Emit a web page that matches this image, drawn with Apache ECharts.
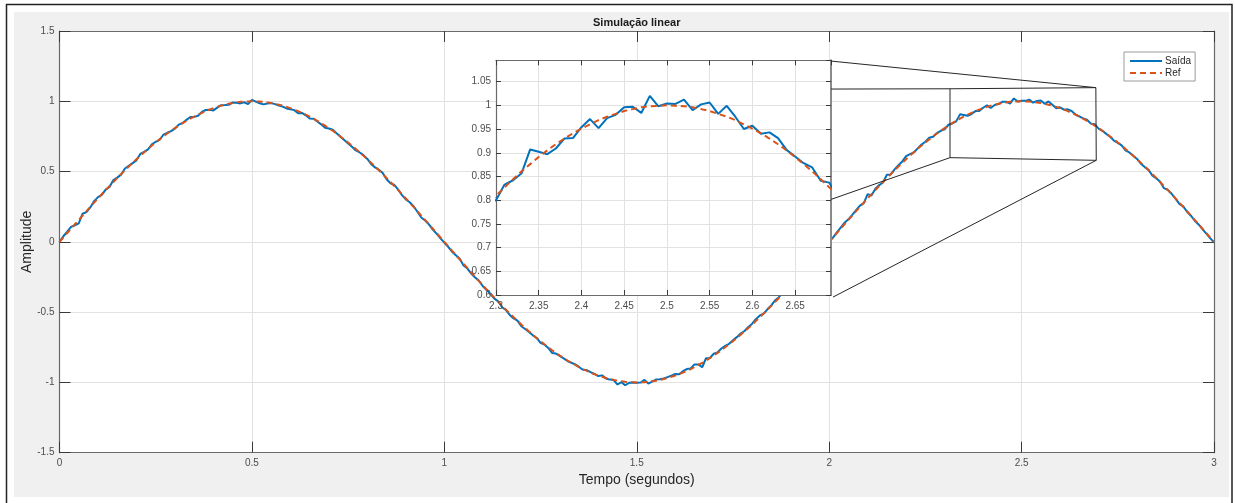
<!DOCTYPE html>
<html>
<head>
<meta charset="utf-8">
<script src="https://cdn.jsdelivr.net/npm/echarts@6/dist/echarts.min.js"></script>
<style>
html,body{margin:0;padding:0;background:#fff;}
#chart{width:1235px;height:503px;}
</style>
</head>
<body>
<div id="chart"></div>
<script>
// ---- data (sample times in seconds) ----
const time = [
0,0.01,0.02,0.03,0.04,0.05,0.06,0.07,0.08,0.09,
0.1,0.11,0.12,0.13,0.14,0.15,0.16,0.17,0.18,0.19,
0.2,0.21,0.22,0.23,0.24,0.25,0.26,0.27,0.28,0.29,
0.3,0.31,0.32,0.33,0.34,0.35,0.36,0.37,0.38,0.39,
0.4,0.41,0.42,0.43,0.44,0.45,0.46,0.47,0.48,0.49,
0.5,0.51,0.52,0.53,0.54,0.55,0.56,0.57,0.58,0.59,
0.6,0.61,0.62,0.63,0.64,0.65,0.66,0.67,0.68,0.69,
0.7,0.71,0.72,0.73,0.74,0.75,0.76,0.77,0.78,0.79,
0.8,0.81,0.82,0.83,0.84,0.85,0.86,0.87,0.88,0.89,
0.9,0.91,0.92,0.93,0.94,0.95,0.96,0.97,0.98,0.99,
1,1.01,1.02,1.03,1.04,1.05,1.06,1.07,1.08,1.09,
1.1,1.11,1.12,1.13,1.14,1.15,1.16,1.17,1.18,1.19,
1.2,1.21,1.22,1.23,1.24,1.25,1.26,1.27,1.28,1.29,
1.3,1.31,1.32,1.33,1.34,1.35,1.36,1.37,1.38,1.39,
1.4,1.41,1.42,1.43,1.44,1.45,1.46,1.47,1.48,1.49,
1.5,1.51,1.52,1.53,1.54,1.55,1.56,1.57,1.58,1.59,
1.6,1.61,1.62,1.63,1.64,1.65,1.66,1.67,1.68,1.69,
1.7,1.71,1.72,1.73,1.74,1.75,1.76,1.77,1.78,1.79,
1.8,1.81,1.82,1.83,1.84,1.85,1.86,1.87,1.88,1.89,
1.9,1.91,1.92,1.93,1.94,1.95,1.96,1.97,1.98,1.99,
2,2.01,2.02,2.03,2.04,2.05,2.06,2.07,2.08,2.09,
2.1,2.11,2.12,2.13,2.14,2.15,2.16,2.17,2.18,2.19,
2.2,2.21,2.22,2.23,2.24,2.25,2.26,2.27,2.28,2.29,
2.3,2.31,2.32,2.33,2.34,2.35,2.36,2.37,2.38,2.39,
2.4,2.41,2.42,2.43,2.44,2.45,2.46,2.47,2.48,2.49,
2.5,2.51,2.52,2.53,2.54,2.55,2.56,2.57,2.58,2.59,
2.6,2.61,2.62,2.63,2.64,2.65,2.66,2.67,2.68,2.69,
2.7,2.71,2.72,2.73,2.74,2.75,2.76,2.77,2.78,2.79,
2.8,2.81,2.82,2.83,2.84,2.85,2.86,2.87,2.88,2.89,
2.9,2.91,2.92,2.93,2.94,2.95,2.96,2.97,2.98,2.99,
3
];

// Saída (system output)
const saida = [
0,0.040,0.072,0.106,0.118,0.131,0.200,0.212,0.245,0.290,
0.318,0.334,0.372,0.390,0.440,0.457,0.478,0.522,0.541,0.560,
0.580,0.625,0.640,0.658,0.694,0.712,0.726,0.762,0.776,0.788,
0.806,0.834,0.846,0.868,0.888,0.889,0.897,0.925,0.938,0.939,
0.935,0.955,0.972,0.973,0.975,0.992,0.990,0.985,0.993,0.980,
1.010,0.998,0.986,0.978,0.984,0.987,0.980,0.970,0.962,0.949,
0.943,0.937,0.915,0.917,0.900,0.878,0.876,0.856,0.836,0.811,
0.806,0.797,0.772,0.748,0.724,0.700,0.677,0.650,0.636,0.617,
0.590,0.552,0.530,0.513,0.489,0.445,0.417,0.405,0.372,0.332,
0.302,0.282,0.253,0.214,0.173,0.152,0.124,0.087,0.058,0.025,
-0.006,-0.035,-0.070,-0.096,-0.121,-0.168,-0.190,-0.226,-0.254,-0.277,
-0.316,-0.342,-0.371,-0.404,-0.423,-0.465,-0.485,-0.520,-0.545,-0.560,
-0.600,-0.620,-0.642,-0.665,-0.684,-0.718,-0.731,-0.755,-0.790,-0.795,
-0.812,-0.829,-0.848,-0.860,-0.872,-0.890,-0.910,-0.912,-0.927,-0.940,
-0.955,-0.950,-0.972,-0.980,-0.983,-1.015,-0.998,-1.020,-1.003,-1.000,
-1.002,-1.001,-0.982,-1.008,-0.995,-0.980,-0.978,-0.972,-0.962,-0.952,
-0.940,-0.942,-0.920,-0.905,-0.900,-0.872,-0.872,-0.892,-0.828,-0.826,
-0.796,-0.786,-0.759,-0.740,-0.725,-0.700,-0.678,-0.652,-0.634,-0.606,
-0.582,-0.548,-0.524,-0.510,-0.478,-0.450,-0.415,-0.392,-0.360,-0.342,
-0.298,-0.272,-0.244,-0.211,-0.190,-0.142,-0.122,-0.085,-0.056,-0.028,
0.004,0.030,0.068,0.102,0.136,0.160,0.192,0.226,0.258,0.276,
0.340,0.329,0.378,0.404,0.422,0.478,0.480,0.516,0.545,0.572,
0.610,0.624,0.636,0.665,0.692,0.712,0.741,0.748,0.774,0.790,
0.800,0.833,0.842,0.857,0.907,0.902,0.897,0.909,0.930,0.931,
0.954,0.971,0.952,0.973,0.980,0.996,0.997,0.984,1.020,0.998,
1.004,1.003,1.012,0.990,1.002,1.006,0.982,0.999,0.976,0.950,
0.957,0.940,0.943,0.931,0.906,0.892,0.878,0.869,0.841,0.837,
0.806,0.790,0.768,0.748,0.720,0.704,0.686,0.651,0.636,0.612,
0.590,0.556,0.532,0.512,0.470,0.452,0.428,0.382,0.370,0.342,
0.308,0.270,0.252,0.214,0.186,0.150,0.124,0.090,0.058,0.026,
-0.004
];

// Ref (reference signal)
const ref = [
0,0.031,0.063,0.094,0.125,0.156,0.187,0.218,0.249,0.279,
0.309,0.339,0.368,0.397,0.426,0.454,0.482,0.509,0.536,0.562,
0.588,0.613,0.637,0.661,0.685,0.707,0.729,0.750,0.771,0.790,
0.809,0.827,0.844,0.861,0.876,0.891,0.905,0.918,0.930,0.941,
0.951,0.960,0.969,0.976,0.982,0.988,0.992,0.996,0.998,0.999,
1,0.999,0.998,0.996,0.992,0.988,0.982,0.976,0.969,0.960,
0.951,0.941,0.930,0.918,0.905,0.891,0.876,0.861,0.844,0.827,
0.809,0.790,0.771,0.750,0.729,0.707,0.685,0.661,0.637,0.613,
0.588,0.562,0.536,0.509,0.482,0.454,0.426,0.397,0.368,0.339,
0.309,0.279,0.249,0.218,0.187,0.156,0.125,0.094,0.063,0.031,
0,-0.031,-0.063,-0.094,-0.125,-0.156,-0.187,-0.218,-0.249,-0.279,
-0.309,-0.339,-0.368,-0.397,-0.426,-0.454,-0.482,-0.509,-0.536,-0.562,
-0.588,-0.613,-0.637,-0.661,-0.685,-0.707,-0.729,-0.750,-0.771,-0.790,
-0.809,-0.827,-0.844,-0.861,-0.876,-0.891,-0.905,-0.918,-0.930,-0.941,
-0.951,-0.960,-0.969,-0.976,-0.982,-0.988,-0.992,-0.996,-0.998,-0.999,
-1,-0.999,-0.998,-0.996,-0.992,-0.988,-0.982,-0.976,-0.969,-0.960,
-0.951,-0.941,-0.930,-0.918,-0.905,-0.891,-0.876,-0.861,-0.844,-0.827,
-0.809,-0.790,-0.771,-0.750,-0.729,-0.707,-0.685,-0.661,-0.637,-0.613,
-0.588,-0.562,-0.536,-0.509,-0.482,-0.454,-0.426,-0.397,-0.368,-0.339,
-0.309,-0.279,-0.249,-0.218,-0.187,-0.156,-0.125,-0.094,-0.063,-0.031,
0,0.031,0.063,0.094,0.125,0.156,0.187,0.218,0.249,0.279,
0.309,0.339,0.368,0.397,0.426,0.454,0.482,0.509,0.536,0.562,
0.588,0.613,0.637,0.661,0.685,0.707,0.729,0.750,0.771,0.790,
0.809,0.827,0.844,0.861,0.876,0.891,0.905,0.918,0.930,0.941,
0.951,0.960,0.969,0.976,0.982,0.988,0.992,0.996,0.998,0.999,
1,0.999,0.998,0.996,0.992,0.988,0.982,0.976,0.969,0.960,
0.951,0.941,0.930,0.918,0.905,0.891,0.876,0.861,0.844,0.827,
0.809,0.790,0.771,0.750,0.729,0.707,0.685,0.661,0.637,0.613,
0.588,0.562,0.536,0.509,0.482,0.454,0.426,0.397,0.368,0.339,
0.309,0.279,0.249,0.218,0.187,0.156,0.125,0.094,0.063,0.031,
0
];

const seriesNames = ['Saída', 'Ref'];
const titleText = 'Simulação linear';
const xAxisName = 'Tempo (segundos)';
const yAxisName = 'Amplitude';

// axis ranges / tick intervals
const mainX = {min: 0, max: 3, interval: 0.5};
const mainY = {min: -1.5, max: 1.5, interval: 0.5};
const insetX = {min: 2.3, max: 2.692, interval: 0.05};
const insetY = {min: 0.6, max: 1.095, interval: 0.05};

// zoom annotation (main-axes data coordinates)
const zoomBox = [[2.314, 1.089], [2.693, 1.097], [2.694, 0.580], [2.314, 0.599]];
const zoomLinks = [
  [[2.005, 1.286], [2.693, 1.097]],
  [[2.005, 1.087], [2.314, 1.089]],
  [[2.005, 0.302], [2.314, 0.599]],
  [[2.010, -0.393], [2.694, 0.580]]
];

const FONT = '"Liberation Sans", Arial, Helvetica, sans-serif';
const BLUE = '#0072BD', RED = '#D95319';

const saidaPts = time.map((t, i) => [t, saida[i]]);
const refPts = time.map((t, i) => [t, ref[i]]);

function axis(kind, gridIndex, range, position, opts) {
  const o = Object.assign({
    type: 'value', gridIndex: gridIndex, position: position,
    min: range.min, max: range.max, interval: range.interval,
    axisLine: {show: true, onZero: false, lineStyle: {color: '#6a6a6a', width: 1.2}},
    axisTick: {show: true, inside: true, length: 11, lineStyle: {color: '#3a3a3a', width: 1}},
    axisLabel: {show: true, color: '#4d4d4d', fontSize: 10, fontFamily: FONT, margin: 6},
    splitLine: {show: false},
    z: 0
  }, opts || {});
  return o;
}

const chart = echarts.init(document.getElementById('chart'), null, {renderer: 'canvas'});

const option = {
  animation: false,
  backgroundColor: '#ffffff',
  textStyle: {fontFamily: FONT},
  grid: [
    {left: 59.5, top: 31, width: 1154.5, height: 421.7, show: true, backgroundColor: '#ffffff', borderWidth: 0, z: 0, containLabel: false, outerBoundsMode: 'none'},
    {left: 496, top: 60.3, width: 335, height: 234.7, show: true, backgroundColor: '#ffffff', borderWidth: 0, z: 5, containLabel: false, outerBoundsMode: 'none'}
  ],
  xAxis: [
    axis('x', 0, mainX, 'bottom', {
      splitLine: {show: true, lineStyle: {color: '#e2e2e2', width: 1}},
      name: xAxisName, nameLocation: 'middle', nameGap: 20, nameMoveOverlap: false,
      nameTextStyle: {fontSize: 14, color: '#262626', fontFamily: FONT}
    }),
    axis('x', 0, mainX, 'top', {axisLabel: {show: false}}),
    axis('x', 1, insetX, 'bottom', {
      z: 6,
      axisTick: {show: true, inside: true, length: 5, lineStyle: {color: '#3a3a3a'}},
      axisLabel: {show: true, color: '#4d4d4d', fontSize: 10, fontFamily: FONT, margin: 6, showMaxLabel: false},
      splitLine: {show: true, lineStyle: {color: '#e2e2e2', width: 1}}
    }),
    axis('x', 1, insetX, 'top', {
      z: 6,
      axisTick: {show: true, inside: true, length: 5, lineStyle: {color: '#3a3a3a'}},
      axisLabel: {show: false}
    })
  ],
  yAxis: [
    axis('y', 0, mainY, 'left', {
      axisLabel: {show: true, color: '#4d4d4d', fontSize: 10, fontFamily: FONT, margin: 5},
      splitLine: {show: true, lineStyle: {color: '#e2e2e2', width: 1}},
      name: yAxisName, nameLocation: 'middle', nameGap: 25, nameRotate: 90, nameMoveOverlap: false,
      nameTextStyle: {fontSize: 14, color: '#262626', fontFamily: FONT}
    }),
    axis('y', 0, mainY, 'right', {axisLabel: {show: false}}),
    axis('y', 1, insetY, 'left', {
      z: 6,
      axisTick: {show: true, inside: true, length: 5, lineStyle: {color: '#3a3a3a'}},
      axisLabel: {show: true, color: '#4d4d4d', fontSize: 10, fontFamily: FONT, margin: 5, showMaxLabel: false},
      splitLine: {show: true, lineStyle: {color: '#e2e2e2', width: 1}}
    }),
    axis('y', 1, insetY, 'right', {
      z: 6,
      axisLine: {show: true, onZero: false, lineStyle: {color: '#8a8a8a', width: 2}},
      axisTick: {show: true, inside: true, length: 5, lineStyle: {color: '#3a3a3a'}},
      axisLabel: {show: false}
    })
  ],
  legend: {
    data: seriesNames,
    left: 1124, top: 52,
    orient: 'vertical',
    itemWidth: 32, itemHeight: 10, itemGap: 2,
    padding: [4, 4, 3, 5],
    backgroundColor: '#ffffff',
    borderColor: '#9a9a9a', borderWidth: 1,
    itemStyle: {opacity: 0, borderWidth: 0},
    textStyle: {fontSize: 10, color: '#262626', fontFamily: FONT, padding: [0, 0, 0, -2]},
    z: 30
  },
  series: [
    {name: seriesNames[0], type: 'line', xAxisIndex: 0, yAxisIndex: 0, data: saidaPts,
     symbol: 'none', showSymbol: false, lineStyle: {color: BLUE, width: 2}, itemStyle: {color: BLUE}, z: 2},
    {name: seriesNames[1], type: 'line', xAxisIndex: 0, yAxisIndex: 0, data: refPts,
     symbol: 'none', showSymbol: false, lineStyle: {color: RED, width: 2, type: [6, 4]}, itemStyle: {color: RED}, z: 3},
    {name: seriesNames[0], type: 'line', xAxisIndex: 2, yAxisIndex: 2, data: saidaPts, clip: true,
     symbol: 'none', showSymbol: false, lineStyle: {color: BLUE, width: 2}, itemStyle: {color: BLUE}, z: 8},
    {name: seriesNames[1], type: 'line', xAxisIndex: 2, yAxisIndex: 2, data: refPts, clip: true,
     symbol: 'none', showSymbol: false, lineStyle: {color: RED, width: 2, type: [6, 4]}, itemStyle: {color: RED}, z: 9}
  ]
};
chart.setOption(option);

// annotation graphics: figure background, frame, title, zoom box & connector lines
const toPx = p => chart.convertToPixel({xAxisIndex: 0, yAxisIndex: 0}, p);
const graphics = [
  {type: 'rect', id: 'figbg', z: -10, silent: true, shape: {x: 14, y: 12, width: 1215, height: 485}, style: {fill: '#f0f0f0'}},
  {type: 'polyline', id: 'frame', z: -9, silent: true, shape: {points: [[6.5, 503], [6.5, 4.5], [1232, 4.5], [1232, 503]]}, style: {stroke: '#222', lineWidth: 1.5, fill: null}},
  {type: 'text', id: 'title', z: 20, x: 636.7, y: 22.5, style: {text: titleText, font: 'bold 11px ' + FONT, fill: '#1a1a1a', textAlign: 'center', textVerticalAlign: 'middle'}},
  {type: 'polygon', id: 'zbox', z: 20, silent: true, shape: {points: zoomBox.map(toPx)}, style: {stroke: '#262626', lineWidth: 1, fill: null}}
];
zoomLinks.forEach((ln, i) => {
  const a = toPx(ln[0]), b = toPx(ln[1]);
  graphics.push({type: 'line', id: 'zl' + i, z: 20, silent: true, shape: {x1: a[0], y1: a[1], x2: b[0], y2: b[1]}, style: {stroke: '#262626', lineWidth: 1}});
});
chart.setOption({graphic: graphics});
</script>
</body>
</html>
